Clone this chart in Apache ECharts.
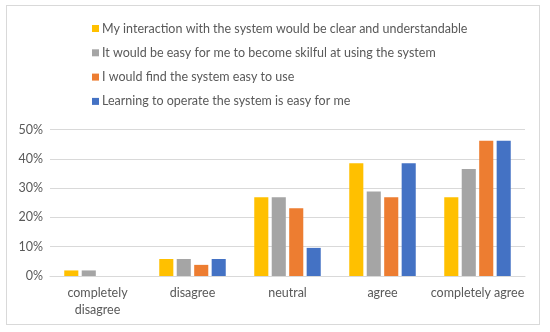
<!DOCTYPE html>
<html><head><meta charset="utf-8">
<script src="https://cdn.jsdelivr.net/npm/echarts@6/dist/echarts.min.js"></script>
<style>html,body{margin:0;padding:0;background:#fff}#c{width:550px;height:332px}
#frame{position:absolute;left:6px;top:5px;width:534px;height:320px;border:1px solid #d9d9d9;box-sizing:border-box;pointer-events:none}</style>
</head><body><div id="c"></div><div id="frame"></div>
<script>
const categories = ['completely\ndisagree', 'disagree', 'neutral', 'agree', 'completely agree'];
const seriesNames = [
  'My interaction with the system would be clear and understandable',
  'It would be easy for me to become skilful at using the system',
  'I would find the system easy to use',
  'Learning to operate the system is easy for me'
];
const clearValues = [1.9, 5.8, 26.9, 38.5, 26.9];
const skilfulValues = [1.9, 5.8, 26.9, 28.8, 36.5];
const easyUseValues = [0, 3.8, 23.1, 26.9, 46.2];
const learningValues = [0, 5.8, 9.6, 38.5, 46.2];
const colors = ['#FFC000', '#A5A5A5', '#ED7D31', '#4472C4'];
const yTicks = [0, 10, 20, 30, 40, 50];

const font = 'Lato, "Open Sans", sans-serif';
const allValues = [clearValues, skilfulValues, easyUseValues, learningValues];
const chart = echarts.init(document.getElementById('c'), null, {renderer: 'canvas'});
chart.setOption({
  animation: false,
  color: colors,
  textStyle: {fontFamily: font},
  legend: {
    orient: 'vertical', left: 87, top: 17,
    itemWidth: 7, itemHeight: 7, itemGap: 11.3,
    icon: 'rect',
    textStyle: {color: '#595959', fontSize: 12.5, fontFamily: font, padding: [0, 0, 0, -2]},
    data: seriesNames
  },
  grid: {left: 50, right: 25, top: 129.5, bottom: 56},
  xAxis: {
    type: 'category', data: categories,
    axisLine: {lineStyle: {color: '#d9d9d9'}},
    axisTick: {show: false},
    axisLabel: {color: '#595959', fontSize: 12.5, fontFamily: font, margin: 8, lineHeight: 17, interval: 0}
  },
  yAxis: {
    type: 'value', min: yTicks[0], max: yTicks[yTicks.length - 1], interval: 10,
    axisLine: {show: false}, axisTick: {show: false},
    splitLine: {lineStyle: {color: '#d9d9d9'}},
    axisLabel: {color: '#595959', fontSize: 12.5, fontFamily: font, margin: 7, formatter: v => v + '%'}
  },
  series: seriesNames.map((n, i) => ({
    name: n, type: 'bar', data: allValues[i],
    barGap: '24%', barCategoryGap: '30%'
  }))
});
</script></body></html>
